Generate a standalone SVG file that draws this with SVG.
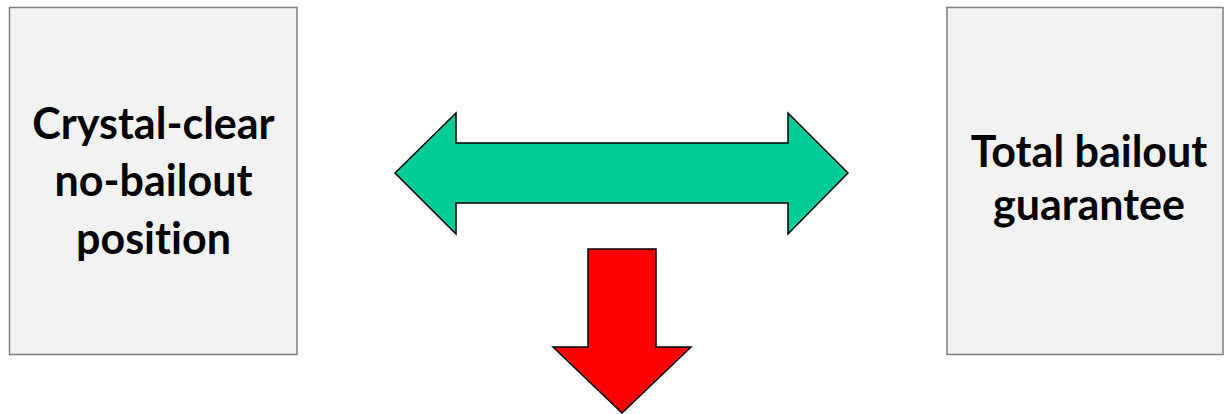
<svg xmlns="http://www.w3.org/2000/svg" width="1224" height="414" viewBox="0 0 1224 414">
<style>
.box{fill:#f2f2f2;stroke:#7f7f7f;stroke-width:1.5}
.lbl{font-family:Lato,"Open Sans","Liberation Sans",sans-serif;font-weight:bold;font-size:43px;fill:#000;text-anchor:middle;font-variant-ligatures:none}
.arr{stroke:#000;stroke-width:1.5;stroke-linejoin:miter}
</style>
<rect width="1224" height="414" fill="#fff"/>
<g id="node-left">
<rect class="box" x="9.5" y="7.5" width="287.5" height="347"/>
<text class="lbl" x="153.5" y="139">Crystal-clear</text>
<text class="lbl" x="153.5" y="196">no-bailout</text>
<text class="lbl" x="153.5" y="254">position</text>
</g>
<g id="node-right">
<rect class="box" x="947" y="7.5" width="276" height="347"/>
<text class="lbl" x="1089" y="167">Total bailout</text>
<text class="lbl" x="1089" y="220">guarantee</text>
</g>
<g id="connectors">
<polygon id="double-arrow" class="arr" fill="#00cc99" points="395,173 456,113 456,143 788,143 788,113 848,173 788,234 788,203 456,203 456,234"/>
<polygon id="down-arrow" class="arr" fill="#ff0000" points="588,249 656,249 656,347 691,347 622,413 553,347 588,347"/>
</g>
</svg>
